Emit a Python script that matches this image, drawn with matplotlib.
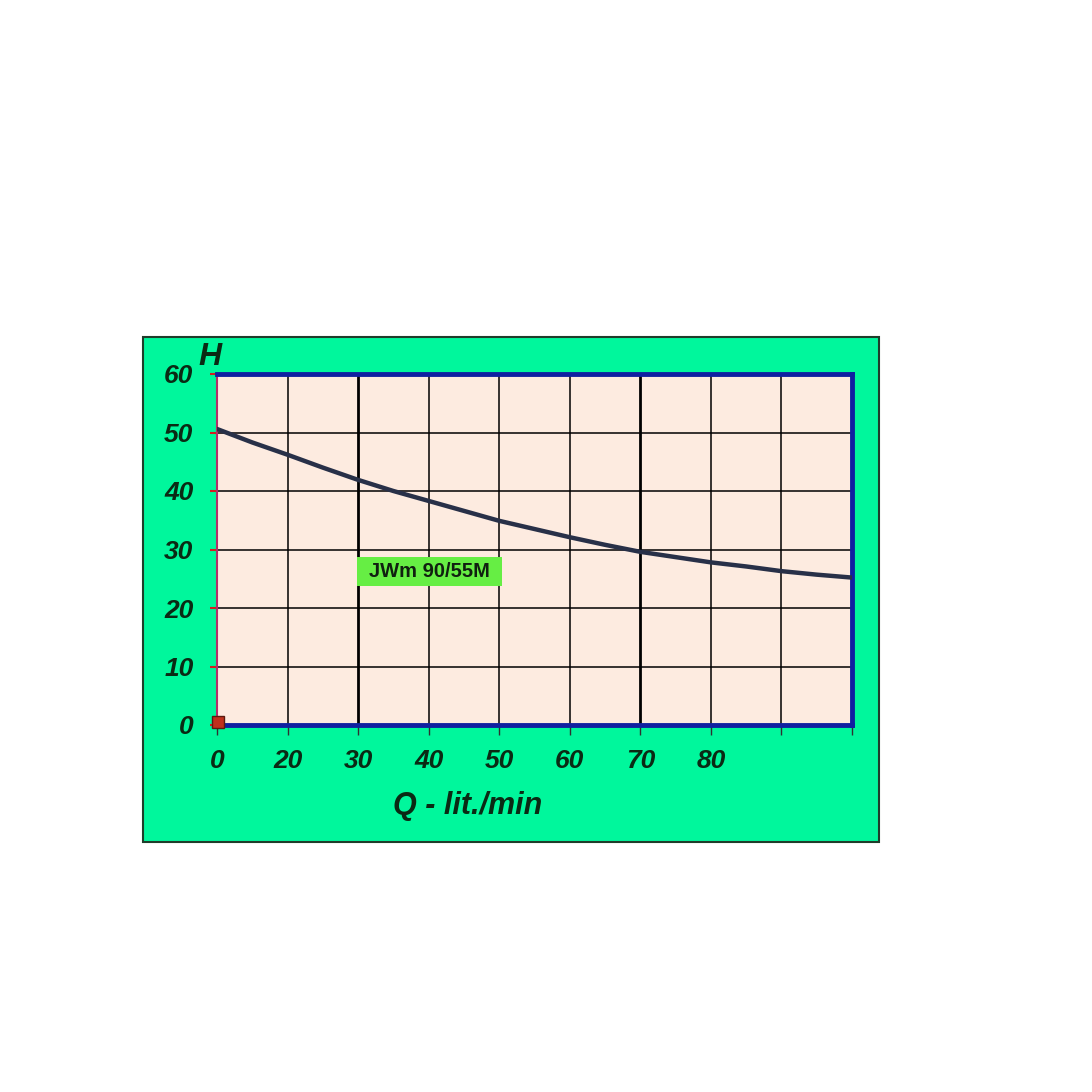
import matplotlib
matplotlib.use('Agg')
import matplotlib.pyplot as plt
from matplotlib.patches import Rectangle

# pump curve JWm 90/55M
q = [0, 5, 10, 15, 20, 25, 30, 35, 40, 45, 50, 55, 60, 65, 70, 75, 80, 85, 90]
h = [50.6, 48.3, 46.2, 44.0, 41.9, 40.0, 38.3, 36.6, 34.9, 33.5, 32.1,
     30.8, 29.6, 28.7, 27.8, 27.1, 26.3, 25.7, 25.2]
q_ticks = [0, 10, 20, 30, 40, 50, 60, 70, 80, 90]
q_labels = ['0', '20', '30', '40', '50', '60', '70', '80', '', '']
h_ticks = [0, 10, 20, 30, 40, 50, 60]
h_labels = ['0', '10', '20', '30', '40', '50', '60']
model = 'JWm 90/55M'

green = '#00f79c'
paper = '#fdebe0'
font = ['Liberation Sans', 'DejaVu Sans']

fig = plt.figure(figsize=(10.92, 10.92), dpi=100)
fig.patch.set_facecolor('white')

# green panel behind the chart
W = H = 1092.0
panel = Rectangle((143 / W, 1 - 842 / H), (879 - 143) / W, (842 - 337) / H,
                  transform=fig.transFigure, facecolor=green,
                  edgecolor='#1f3d2a', linewidth=1.5, zorder=-10)
fig.patches.append(panel)

ax = fig.add_axes([217 / W, 1 - 725 / H, (852 - 217) / W, (725 - 374) / H])
ax.set_facecolor(paper)
ax.set_xlim(0, 90)
ax.set_ylim(0, 60)

# grid
for x in q_ticks[1:-1]:
    lw = 2.0 if x in (20, 60) else 1.1
    ax.axvline(x, color='black', linewidth=lw, zorder=1)
for y in h_ticks[1:-1]:
    ax.axhline(y, color='black', linewidth=1.1, zorder=1)

ax.plot(q, h, color='#283048', linewidth=3.2, solid_capstyle='round', zorder=3)

# small square at origin
ax.plot([0.15], [0.5], marker='s', markersize=8, color='#c0301c',
        markeredgecolor='#5a1a10', markeredgewidth=1, clip_on=False, zorder=5)

for s in ['top', 'right', 'bottom']:
    ax.spines[s].set_color('#1020a0')
    ax.spines[s].set_linewidth(3.5)
ax.spines['left'].set_color('#b0306a')
ax.spines['left'].set_linewidth(1.5)

ax.set_xticks(q_ticks)
ax.set_xticklabels(q_labels, fontfamily=font, fontweight='bold',
                   fontstyle='italic', fontsize=19, color='#0a2a14')
ax.set_yticks(h_ticks)
ax.set_yticklabels(h_labels, fontfamily=font, fontweight='bold',
                   fontstyle='italic', fontsize=19, color='#0a2a14')
ax.tick_params(axis='x', direction='out', length=7, width=1, color='#303030', pad=10)
ax.tick_params(axis='y', direction='out', length=5, width=1.5, color='#d02020', pad=12)

ax.text(-2.7, 60.3, 'H', fontfamily=font, fontweight='bold', fontstyle='italic',
        fontsize=23, color='#0a2a14', ha='left', va='bottom')
ax.text(35.5, -13.8, 'Q - lit./min', fontfamily=font, fontweight='bold',
        fontstyle='italic', fontsize=22, color='#0a2a14', ha='center', va='center')

# model label box
ax.add_patch(Rectangle((19.9, 23.8), 20.5, 4.9, facecolor='#66ee44',
                       edgecolor='none', zorder=4))
ax.text(30.15, 26.25, model, fontfamily=font, fontweight='bold', fontsize=14.5,
        color='#102010', ha='center', va='center', zorder=5)

fig.savefig('out.png', dpi=100, facecolor='white')
